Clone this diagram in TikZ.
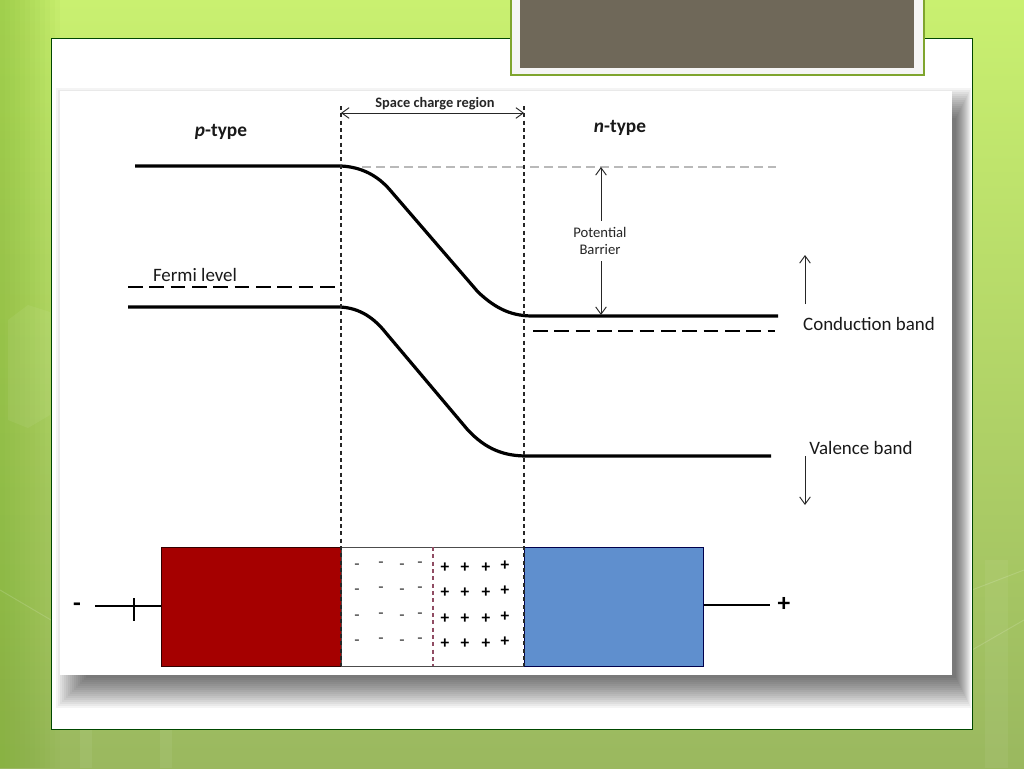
\documentclass[tikz,border=0pt]{standalone}
\usepackage{fontspec}
\setmainfont{Carlito}
\usetikzlibrary{arrows.meta}
\definecolor{slidetop}{HTML}{C9F070}
\definecolor{slidemid}{HTML}{A9D85A}
\definecolor{slidebot}{HTML}{9AB85F}
\definecolor{slideleft}{HTML}{7DB22E}
\definecolor{titlegray}{HTML}{6F6859}
\definecolor{titleline}{HTML}{7FA52E}
\definecolor{pside}{HTML}{A50000}
\definecolor{nside}{HTML}{5F8FCE}
\begin{document}
\begin{tikzpicture}[x=0.75pt,y=-0.75pt,>={Straight Barb[length=5.5pt,width=8pt]},
	band line/.style={line width=2.4pt,black},
	level dash/.style={line width=1.5pt,dash pattern=on 11pt off 5pt},
	edge dash/.style={line width=0.8pt,dash pattern=on 3pt off 2.5pt,black!85},
	thin arrow/.style={line width=0.7pt,->,black!85},
	box part/.style={draw=black!70,line width=0.9pt,minimum height=89.25pt,inner sep=0pt,anchor=north west},
	label text/.style={font=\fontsize{14.2}{16}\selectfont,inner sep=0pt,text=black!90},
	type text/.style={font=\bfseries\fontsize{14.5}{16}\selectfont,inner sep=0pt,text=black!90},
	small text/.style={font=\fontsize{11}{13}\selectfont,inner sep=0pt,align=center,text=black!85},
	plus sign/.style={inner sep=0pt,font=\bfseries\fontsize{13}{13}\selectfont},
	minus sign/.style={inner sep=0pt,font=\fontsize{13}{13}\selectfont,text=black!80},
	term sign/.style={inner sep=0pt,font=\bfseries\fontsize{19}{19}\selectfont}]

	\useasboundingbox (0,0) rectangle (1024,768);

	% slide
	\shade[top color=slidetop,middle color=slidemid,bottom color=slidebot] (0,0) rectangle (1024,768);
	\foreach \i in {1,...,12}
		\fill[slideleft,opacity=0.05] (0,0) rectangle (5*\i,768);
	\fill[white,opacity=0.06] (8,320) -- (28,305) -- (50,312) -- (50,415) -- (28,428) -- (8,420) -- cycle;
	\draw[white,opacity=0.15,line width=0.7pt] (0,590) -- (51,620);
	\draw[white,opacity=0.15,line width=0.7pt] (972,650) -- (1024,620);
	\draw[white,opacity=0.15,line width=0.7pt] (972,590) -- (1024,570);
	\fill[white,opacity=0.06] (80,729) rectangle (92,768);
	\fill[white,opacity=0.06] (160,729) rectangle (172,768);
	\fill[white,opacity=0.05] (985,560) rectangle (1008,768);
	\node[draw=black!60!green!70!black,line width=0.7pt,fill=white,minimum width=690.75pt,minimum height=518.25pt,inner sep=0pt,anchor=north west] (panel) at (51,38) {};
	\foreach \i in {0,...,15}
		\fill[black,opacity=0.045] (56+2*\i,88+2*\i) rectangle (971-\i,708-2*\i);
	\node[draw=titleline,line width=1.5pt,fill=white!96!black,minimum width=309.75pt,minimum height=60pt,inner sep=0pt,anchor=south west] (titlebox) at (510,76) {};
	\node[fill=titlegray,minimum width=295.5pt,minimum height=54pt,inner sep=0pt,anchor=south west] (titlefill) at (520,68) {};
	\node[fill=white,minimum width=669pt,minimum height=438pt,inner sep=0pt,anchor=north west] (sheet) at (60,91) {};

	% labels
	\node[type text] (ptype) at (221,132) {\textit{p}-type};
	\node[type text] (ntype) at (620,128) {\textit{n}-type};
	\node[small text,font=\bfseries\fontsize{10.8}{12}\selectfont] (scr) at (435,104) {Space charge region};
	\node[small text] (barrier) at (600,241) {Potential\\Barrier};
	\node[label text] (fermi) at (195,275) {Fermi level};
	\node[label text] (cband) at (869,324) {Conduction band};
	\node[label text] (vband) at (861,448) {Valence band};

	% bands
	\coordinate (c0) at (135,166);
	\coordinate (c1) at (341,166);
	\coordinate (c2) at (390,190);
	\coordinate (c3) at (478,292);
	\coordinate (c4) at (533,316);
	\coordinate (c5) at (778,316);
	\draw[band line] (c0) -- (c1) .. controls (362,167) and (378,176) .. (c2) -- (c3) .. controls (497,310) and (513,316) .. (c4) -- (c5);
	\coordinate (v0) at (128,307);
	\coordinate (v1) at (340,307);
	\coordinate (v2) at (386,333);
	\coordinate (v3) at (467,429);
	\coordinate (v4) at (527,456);
	\coordinate (v5) at (771,456);
	\draw[band line] (v0) -- (v1) .. controls (360,308) and (374,318) .. (v2) -- (v3) .. controls (486,450) and (505,456) .. (v4) -- (v5);

	% dashed levels
	\coordinate (f0) at (128,287);
	\coordinate (f1) at (341,287);
	\coordinate (f2) at (533,331);
	\coordinate (f3) at (775,331);
	\coordinate (g0) at (362,167);
	\coordinate (g1) at (776,167);
	\draw[level dash] (f0) -- (f1);
	\draw[level dash] (f2) -- (f3);
	\draw[gray!55,line width=0.8pt,dash pattern=on 7pt off 3.5pt] (g0) -- (g1);

	% device
	\node[box part,fill=pside,draw=black!80!red,minimum width=135pt] (pbox) at (161,547) {};
	\node[box part,fill=white,minimum width=137.25pt] (mid) at (341,547) {};
	\node[box part,fill=nside,draw=black!70!blue,minimum width=134.25pt] (nbox) at (524,547) {};

	% region limits
	\coordinate (l0) at (341,106);
	\coordinate (l1) at (341,666);
	\coordinate (r0) at (524,106);
	\coordinate (r1) at (524,666);
	\coordinate (d0) at (433,547);
	\coordinate (d1) at (433,666);
	\draw[edge dash] (l0) -- (l1);
	\draw[edge dash] (r0) -- (r1);
	\draw[edge dash,black!50!purple!70] (d0) -- (d1);

	% arrows
	\coordinate (s0) at (341,113);
	\coordinate (s1) at (524,113);
	\draw[thin arrow,<->] (s0) -- (s1);
	\coordinate (b0) at (601,167);
	\coordinate (b1) at (601,315);
	\draw[thin arrow] (barrier.north -| b0) ++(0,-6) coordinate (b2) -- (b0);
	\draw[thin arrow] (barrier.south -| b1) ++(0,6) coordinate (b3) -- (b1);
	\coordinate (u0) at (805,304);
	\coordinate (u1) at (805,255);
	\coordinate (w0) at (805,456);
	\coordinate (w1) at (805,505);
	\draw[thin arrow] (u0) -- (u1);
	\draw[thin arrow] (w0) -- (w1);

	% charges
	\foreach \y [count=\j] in {567,592,618,643} {
		\foreach \x/\d [count=\i] in {357/1,381/-1,402/1,420/-1}
			\node[minus sign] (m\i\j) at (\x,\y-1+\d) {-};
		\foreach \x/\d [count=\i] in {445/0,465/0,486/0,505/-2}
			\node[plus sign] (q\i\j) at (\x,\y+1+\d) {+};
	}

	% terminals
	\coordinate (t0) at (95,606);
	\coordinate (t1) at (134,598);
	\coordinate (t2) at (134,621);
	\coordinate (t3) at (770,605);
	\draw[line width=1.3pt] (t0) -- (pbox.west |- t0);
	\draw[line width=1.3pt] (t1) -- (t2);
	\draw[line width=1.3pt] (nbox.east |- t3) -- (t3);
	\node[term sign] (minus) at (77,607) {-};
	\node[term sign] (plus) at (784,604) {+};
\end{tikzpicture}
\end{document}
